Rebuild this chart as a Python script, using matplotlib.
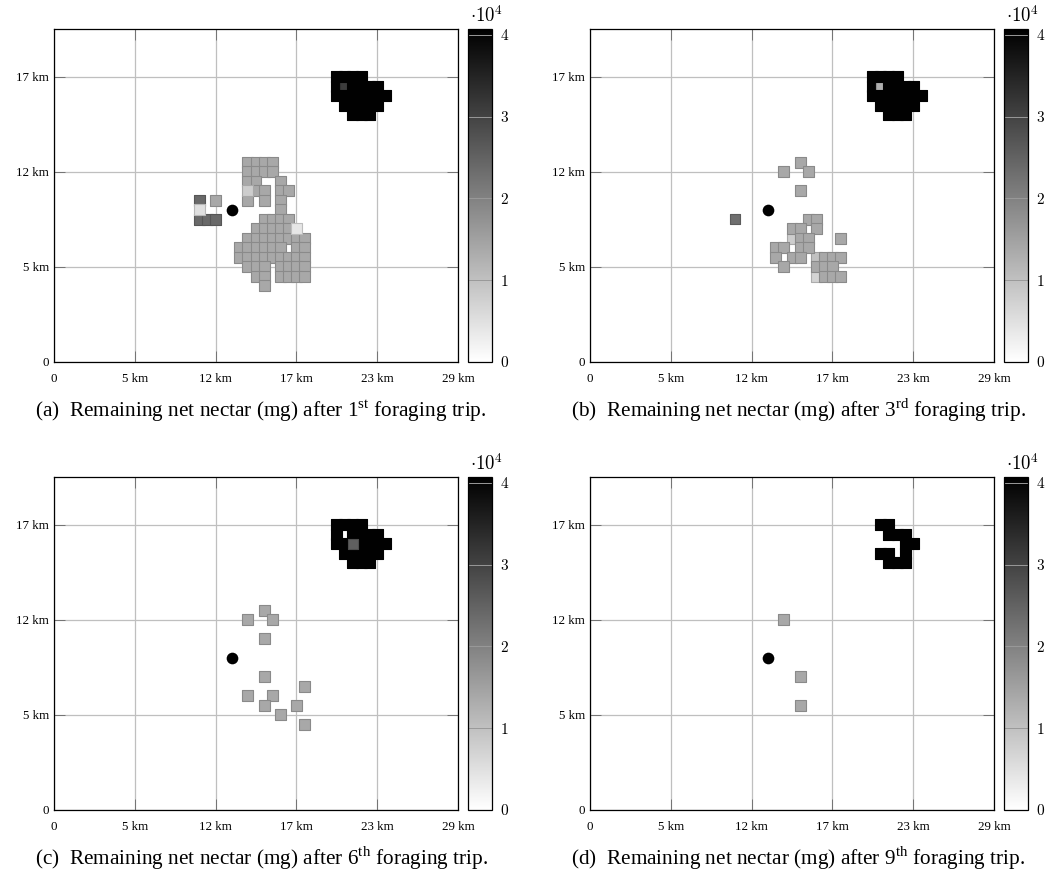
import matplotlib
matplotlib.use('Agg')
from matplotlib import pyplot as plt
from matplotlib.cm import ScalarMappable
from matplotlib.colors import Normalize
import numpy as np

plt.rcParams['font.family'] = ['Liberation Serif', 'DejaVu Serif']
plt.rcParams['mathtext.fontset'] = 'custom'
plt.rcParams['mathtext.rm'] = 'Liberation Serif'

# Hive position (grid cells)
hive = (22, 16)

# Far patch, split so the odd cell in column 36 sits between the layers
patch_left = [(35, 30), (35, 29), (35, 28)]
patch_rest = [(36, 30), (37, 30), (38, 30),
              (37, 29), (38, 29), (39, 29), (40, 29),
              (36, 28), (37, 28), (38, 28), (39, 28), (40, 28), (41, 28),
              (36, 27), (37, 27), (38, 27), (39, 27), (40, 27),
              (37, 26), (38, 26), (39, 26)]

# Trip 1
trip1_gray = [(24, 21), (25, 21), (26, 21), (27, 21), (24, 20), (25, 20), (26, 20), (27, 20),
              (24, 19), (25, 19), (25, 18), (26, 18), (24, 17), (26, 17),
              (28, 19), (28, 18), (29, 18), (28, 17), (28, 16),
              (26, 15), (27, 15), (28, 15), (29, 15),
              (25, 14), (26, 14), (27, 14), (28, 14), (29, 14),
              (24, 13), (25, 13), (26, 13), (27, 13), (28, 13), (29, 13), (30, 13), (31, 13),
              (23, 12), (24, 12), (25, 12), (26, 12), (27, 12), (28, 12), (30, 12), (31, 12),
              (23, 11), (24, 11), (25, 11), (26, 11), (27, 11), (28, 11), (29, 11), (30, 11), (31, 11),
              (24, 10), (25, 10), (26, 10), (28, 10), (29, 10), (30, 10), (31, 10),
              (25, 9), (26, 9), (28, 9), (29, 9), (30, 9), (31, 9),
              (26, 8), (20, 17)]
trip1_dark = [(18, 17), (18, 15), (19, 15), (20, 15)]
trip1_light = [(24, 18), (30, 14), (18, 16)]
trip1_light_values = [0.8e4, 0.4e4, 0.5e4]

# Trip 3
trip3_light = [(25, 13), (28, 11), (28, 9)]
trip3_light_values = [0.8e4, 1.0e4, 0.7e4]
trip3_gray = [(24, 20), (26, 21), (27, 20), (26, 18),
              (27, 15), (28, 15), (28, 14), (25, 14), (26, 14),
              (26, 13), (27, 13), (26, 12), (27, 12), (31, 13),
              (23, 12), (24, 12), (23, 11), (25, 11), (26, 11), (24, 10),
              (28, 10), (29, 11), (30, 11), (31, 11),
              (29, 10), (30, 10), (29, 9), (30, 9), (31, 9)]
trip3_dark = [(18, 15)]

# Trip 6
trip6_gray = [(26, 21), (24, 20), (27, 20), (26, 18), (26, 14), (31, 13),
              (24, 12), (27, 12), (26, 11), (30, 11), (28, 10), (31, 9)]

# Trip 9
trip9_gray = [(24, 20), (26, 14), (26, 11)]
trip9_patch = [(36, 30), (37, 30), (37, 29), (38, 29), (39, 29),
               (39, 28), (40, 28), (36, 27), (37, 27), (39, 27),
               (37, 26), (38, 26), (39, 26)]

full = 4.05e4
gray = 1.39e4

panels = [
    [(patch_left, full), ([(36, 29)], 3.1e4), (patch_rest, full),
     (trip1_gray, gray), (trip1_dark, 2.4e4), (trip1_light, trip1_light_values)],
    [(patch_left, full), ([(36, 29)], 1.3e4), (patch_rest, full),
     (trip3_light, trip3_light_values), (trip3_gray, gray), (trip3_dark, 2.3e4)],
    [(patch_left, full), (patch_rest, full), ([(37, 28)], 2.55e4), (trip6_gray, gray)],
    [(trip9_patch, full), (trip9_gray, gray)],
]
captions = [
    r'(a)  Remaining net nectar (mg) after 1$^{\mathrm{st}}$ foraging trip.',
    r'(b)  Remaining net nectar (mg) after 3$^{\mathrm{rd}}$ foraging trip.',
    r'(c)  Remaining net nectar (mg) after 6$^{\mathrm{th}}$ foraging trip.',
    r'(d)  Remaining net nectar (mg) after 9$^{\mathrm{th}}$ foraging trip.',
]
x_ticks = [0, 10, 20, 30, 40, 50]
x_labels = ['0', '5 km', '12 km', '17 km', '23 km', '29 km']
y_ticks = [0, 10, 20, 30]
y_labels = ['0', '5 km', '12 km', '17 km']
bar_ticks = [0, 1e4, 2e4, 3e4, 4e4]
bar_labels = ['0', '1', '2', '3', '4']

W, H = 1045, 877
lefts = [54, 590, 54, 590]
tops = [29, 29, 477, 477]

fig = plt.figure(figsize=(W / 100, H / 100), dpi=100)
norm = Normalize(0, 4.07e4)
cmap = plt.get_cmap('gray_r')


def box(left, top, width, height):
    return [left / W, 1 - (top + height) / H, width / W, height / H]


for layers, caption, left, top in zip(panels, captions, lefts, tops):
    ax = fig.add_axes(box(left, top, 404, 333))
    ax.set_xlim(0, 50)
    ax.set_ylim(0, 35)
    ax.set_xticks(x_ticks)
    ax.set_xticklabels(x_labels, fontsize=9.4)
    ax.set_yticks(y_ticks)
    ax.set_yticklabels(y_labels, fontsize=9.4)
    ax.tick_params(direction='in', length=8, width=0.7, color='0.45', top=True, right=True)
    ax.tick_params(axis='x', pad=8)
    ax.tick_params(axis='y', pad=3.5)
    ax.grid(True, color='0.75', linewidth=0.9)
    ax.set_axisbelow(True)
    for spine in ax.spines.values():
        spine.set_linewidth(0.9)
    for i, (cells, value) in enumerate(layers):
        cells = np.array(cells)
        values = np.broadcast_to(value, len(cells))
        fills = cmap(norm(values))
        edges = fills.copy()
        edges[:, :3] *= 0.82
        ax.scatter(cells[:, 0], cells[:, 1], s=62, marker='s', c=fills, edgecolors=edges,
                   linewidths=0.8, zorder=3 + i * 0.01)
    ax.plot(*hive, 'o', color='black', markersize=8.4, markeredgewidth=0, zorder=5)
    fig.text((left - 19) / W, 1 - (top + 388) / H, caption,
             fontsize=15.3, va='baseline', ha='left')

    cax = fig.add_axes(box(left + 414, top, 24, 333))
    cb = fig.colorbar(ScalarMappable(norm=norm, cmap=cmap), cax=cax)
    cb.set_ticks(bar_ticks)
    cb.set_ticklabels(bar_labels, family='cmr10', fontsize=11)
    cb.ax.minorticks_off()
    cb.ax.tick_params(direction='in', length=17.3, width=0.7, color='0.6', pad=6)
    cb.outline.set_linewidth(0.9)
    cax.text(0.77, 1.008, r'$\cdot 10^{4}$', transform=cax.transAxes, ha='center', va='bottom',
             fontsize=13.5, math_fontfamily='cm')

fig.savefig('out.png', dpi=100)
